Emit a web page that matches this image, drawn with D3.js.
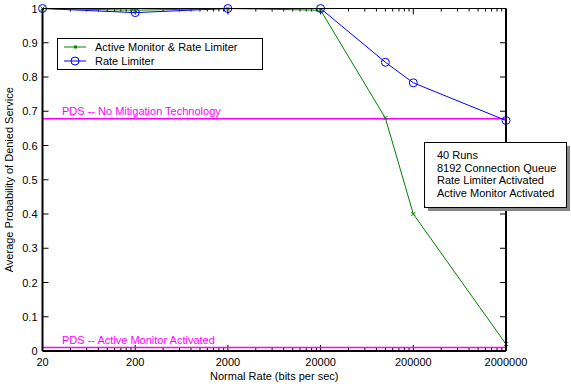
<!DOCTYPE html>
<html>
<head>
<meta charset="utf-8">
<script src="https://cdn.jsdelivr.net/npm/d3@7"></script>
<style>
  body { margin: 0; background: #fff; }
  text { font-family: "Liberation Sans", Arial, sans-serif; }
</style>
</head>
<body>
<div id="chart"></div>
<script>
var rates = [20, 200, 2000, 20000, 100000, 200000, 2000000];
var activeMonitorRateLimiter = [1, 0.995, 1, 0.995, 0.68, 0.40, 0.02];
var rateLimiter = [1, 0.988, 1, 1, 0.843, 0.783, 0.673];
var xTickLabels = ["20", "200", "2000", "20000", "200000", "2000000"];
var yTickValues = [0, 0.1, 0.2, 0.3, 0.4, 0.5, 0.6, 0.7, 0.8, 0.9, 1];
var refLines = [
  { label: "PDS -- No Mitigation Technology", value: 0.678 },
  { label: "PDS -- Active Monitor Activated", value: 0.01 }
];
var noteLines = ["40 Runs", "8192 Connection Queue", "Rate Limiter Activated", "Active Monitor Activated"];
var legendNames = ["Active Monitor & Rate Limiter", "Rate Limiter"];

var width = 571, height = 387;
var margin = { left: 42.5, right: 65, top: 8.5, bottom: 36 };

var svg = d3.select("#chart").append("svg")
    .attr("width", width)
    .attr("height", height);

var x = d3.scaleLog()
    .domain([20, 2000000])
    .range([margin.left, width - margin.right]);

var y = d3.scaleLinear()
    .domain([0, 1])
    .range([height - margin.bottom, margin.top]);

var x0 = x.range()[0], x1 = x.range()[1], y0 = y.range()[0], y1 = y.range()[1];

// minor ticks on log axis (2..9 times each decade, from 20)
var minor = [];
for (var d = 20; d < 2000000; d *= 10) {
  for (var k = 1; k < 10; k++) {
    var v = d * k / 1;
    if (v > d && v < d * 10) minor.push(v);
  }
}

var ticks = svg.append("g").attr("stroke", "#000");

// x minor ticks bottom and top
minor.forEach(function(v) {
  ticks.append("line").attr("x1", x(v)).attr("x2", x(v)).attr("y1", y0).attr("y2", y0 - 3);
  ticks.append("line").attr("x1", x(v)).attr("x2", x(v)).attr("y1", y1).attr("y2", y1 + 3);
});
// x major ticks
xTickLabels.forEach(function(t) {
  var v = +t;
  ticks.append("line").attr("x1", x(v)).attr("x2", x(v)).attr("y1", y0).attr("y2", y0 - 6);
  ticks.append("line").attr("x1", x(v)).attr("x2", x(v)).attr("y1", y1).attr("y2", y1 + 6);
});
// y ticks left and right
yTickValues.forEach(function(v) {
  ticks.append("line").attr("x1", x0).attr("x2", x0 + 6).attr("y1", y(v)).attr("y2", y(v));
  ticks.append("line").attr("x1", x1).attr("x2", x1 - 6).attr("y1", y(v)).attr("y2", y(v));
});

// tick labels
svg.append("g").selectAll("text")
  .data(xTickLabels)
  .enter().append("text")
    .attr("x", function(d) { return x(+d); })
    .attr("y", y0 + 15)
    .attr("text-anchor", "middle")
    .attr("font-size", 11)
    .text(function(d) { return d; });

svg.append("g").selectAll("text")
  .data(yTickValues)
  .enter().append("text")
    .attr("x", x0 - 5)
    .attr("y", function(d) { return y(d) + 4; })
    .attr("text-anchor", "end")
    .attr("font-size", 11)
    .text(function(d) { return d3.format("")(+d.toFixed(1)); });

// reference lines
refLines.forEach(function(r) {
  svg.append("line")
    .attr("x1", x0).attr("x2", x1)
    .attr("y1", y(r.value)).attr("y2", y(r.value))
    .attr("stroke", "#ff00ff").attr("stroke-width", 1.5);
  svg.append("text")
    .attr("x", 62).attr("y", y(r.value) - 4)
    .attr("fill", "#ff00ff")
    .attr("font-size", 11)
    .text(r.label);
});

var line = d3.line()
    .x(function(d) { return x(d[0]); })
    .y(function(d) { return y(d[1]); });

var greenData = rates.map(function(r, i) { return [r, activeMonitorRateLimiter[i]]; });
var blueData = rates.map(function(r, i) { return [r, rateLimiter[i]]; });

svg.append("path")
  .datum(greenData)
  .attr("fill", "none")
  .attr("stroke", "#008000")
  .attr("stroke-width", 1)
  .attr("d", line);

svg.selectAll(".gm")
  .data(greenData)
  .enter().append("path")
    .attr("class", "gm")
    .attr("d", "M-2,-2L2,2M-2,2L2,-2")
    .attr("stroke", "#008000")
    .attr("transform", function(d) { return "translate(" + x(d[0]) + "," + y(d[1]) + ")"; });

svg.append("path")
  .datum(blueData)
  .attr("fill", "none")
  .attr("stroke", "#0000ff")
  .attr("stroke-width", 1)
  .attr("d", line);

svg.selectAll(".bm")
  .data(blueData)
  .enter().append("circle")
    .attr("class", "bm")
    .attr("cx", function(d) { return x(d[0]); })
    .attr("cy", function(d) { return y(d[1]); })
    .attr("r", 4)
    .attr("fill", "none")
    .attr("stroke", "#0000ff");

// frame
svg.append("line").attr("x1", x0).attr("x2", x1).attr("y1", y1).attr("y2", y1).attr("stroke", "#000");
svg.append("line").attr("x1", x0).attr("x2", x1).attr("y1", y0).attr("y2", y0).attr("stroke", "#000").attr("stroke-width", 2);
svg.append("line").attr("x1", x0).attr("x2", x0).attr("y1", y1).attr("y2", y0).attr("stroke", "#000").attr("stroke-width", 2);
svg.append("line").attr("x1", x1).attr("x2", x1).attr("y1", y1).attr("y2", y0).attr("stroke", "#000").attr("stroke-width", 2);

// legend
var legend = svg.append("g");
legend.append("rect")
  .attr("x", 57.5).attr("y", 38.5).attr("width", 205).attr("height", 31)
  .attr("fill", "#fff").attr("stroke", "#000");
var legendItems = [
  { name: legendNames[0], color: "#008000", marker: "x" },
  { name: legendNames[1], color: "#0000ff", marker: "o" }
];
legendItems.forEach(function(it, i) {
  var ly = 47 + i * 14;
  legend.append("line").attr("x1", 64).attr("x2", 86).attr("y1", ly).attr("y2", ly).attr("stroke", it.color);
  if (it.marker === "o") {
    legend.append("circle").attr("cx", 75).attr("cy", ly).attr("r", 4).attr("fill", "none").attr("stroke", it.color);
  } else {
    legend.append("rect").attr("x", 74).attr("y", ly - 1.5).attr("width", 3).attr("height", 3).attr("fill", it.color);
  }
  legend.append("text").attr("x", 95).attr("y", ly + 4).attr("font-size", 11).text(it.name);
});

// annotation box
var note = svg.append("g");
note.append("rect").attr("x", 428).attr("y", 146).attr("width", 142).attr("height", 65).attr("fill", "#888");
note.append("rect").attr("x", 424.5).attr("y", 142.5).attr("width", 142).attr("height", 65)
  .attr("fill", "#fff").attr("stroke", "#000");
noteLines.forEach(function(t, i) {
  note.append("text").attr("x", 437).attr("y", 159 + i * 12.5).attr("font-size", 11).text(t);
});

// axis titles
svg.append("text")
  .attr("x", (x0 + x1) / 2).attr("y", 380)
  .attr("text-anchor", "middle").attr("font-size", 11)
  .text("Normal Rate (bits per sec)");

svg.append("text")
  .attr("transform", "translate(13," + ((y0 + y1) / 2) + ") rotate(-90)")
  .attr("text-anchor", "middle").attr("font-size", 11)
  .text("Average Probability of Denied Service");
</script>
</body>
</html>
